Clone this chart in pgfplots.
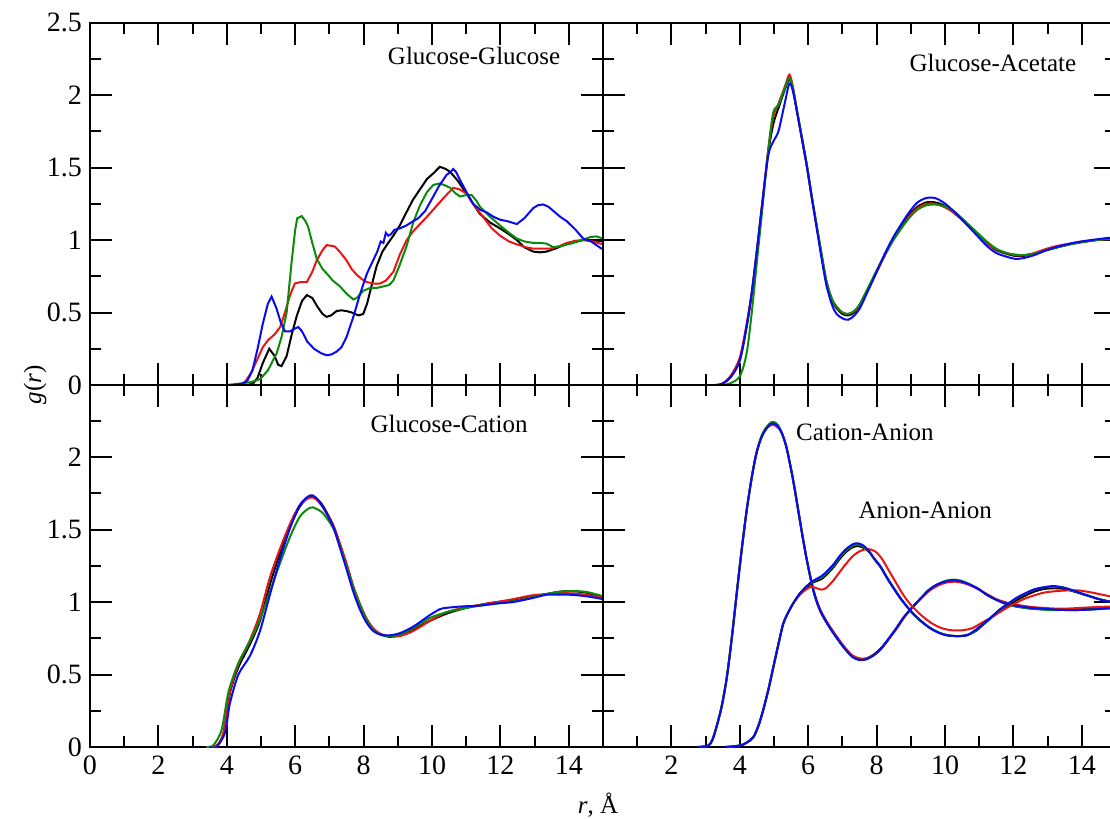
\documentclass[border=0pt]{standalone}
\usepackage{fontspec}
\setmainfont{Liberation Serif}
\usepackage{pgfplots}
\pgfplotsset{compat=1.18}

\definecolor{cred}{RGB}{235,20,20}
\definecolor{cgreen}{RGB}{10,140,10}
\definecolor{cblue}{RGB}{10,10,240}

\tikzset{lbl/.style={font=\fontsize{12.5}{15}\selectfont}}
\pgfplotsset{
  panel/.style={
    scale only axis, width=256.5pt, height=181.25pt,
    xmin=0, xmax=15, ymin=0, ymax=2.5,
    xtick={0,2,...,14}, minor xtick={1,3,...,15},
    ytick={0,0.5,1,1.5,2,2.5}, minor ytick={0.25,0.75,1.25,1.75,2.25},
    tick align=inside, tick pos=both,
    major tick length=11pt, minor tick length=5.5pt,
    axis line style={line width=1pt},
    every tick/.style={black, line width=1pt},
    tick label style={font=\fontsize{14}{16}\selectfont},
    /pgf/number format/assume math mode=true,
    every axis plot/.append style={line width=1pt},
    xticklabel style={yshift=-1pt},
    yticklabel style={xshift=-0.5pt},
  },
}

\begin{document}
\begin{tikzpicture}

% ---------- Glucose-Glucose ----------
\begin{axis}[panel, at={(45pt,-192.5pt)}, anchor=south west,
  xticklabels={}, yticklabels={0,0.5,1,1.5,2,2.5}]
\addplot[black] coordinates {
 (4.2,0) (4.6,0) (4.77,0.01) (4.9,0.05) (5.05,0.15) (5.24,0.25) (5.4,0.20) (5.5,0.14)
 (5.6,0.13) (5.75,0.20) (5.9,0.35) (6.05,0.48) (6.2,0.58) (6.34,0.62) (6.5,0.60) (6.65,0.54)
 (6.8,0.49) (6.92,0.47) (7.05,0.48) (7.21,0.51) (7.35,0.515) (7.5,0.51) (7.65,0.50) (7.85,0.48)
 (7.99,0.49) (8.1,0.56) (8.25,0.70) (8.38,0.82) (8.55,0.92) (8.72,0.98) (8.87,1.03) (9.06,1.10)
 (9.25,1.19) (9.45,1.28) (9.65,1.35) (9.85,1.42) (10.04,1.46) (10.23,1.505) (10.4,1.49) (10.53,1.47)
 (10.75,1.41) (11.01,1.32) (11.2,1.25) (11.4,1.18) (11.7,1.12) (11.99,1.08) (12.25,1.04) (12.48,1.00)
 (12.7,0.95) (12.96,0.92) (13.15,0.915) (13.35,0.92) (13.6,0.94) (13.85,0.965) (14.04,0.98)
 (14.25,0.99) (14.42,1.0) (14.7,1.0) (15,0.99)};
\addplot[cred] coordinates {
 (4.0,0) (4.4,0) (4.53,0.02) (4.7,0.08) (4.9,0.18) (5.05,0.26) (5.21,0.31) (5.4,0.35) (5.56,0.40)
 (5.7,0.50) (5.85,0.62) (5.99,0.70) (6.15,0.71) (6.34,0.71) (6.5,0.78) (6.63,0.86) (6.8,0.93)
 (6.92,0.965) (7.05,0.96) (7.16,0.955) (7.3,0.92) (7.5,0.86) (7.65,0.80) (7.8,0.76) (7.95,0.73)
 (8.09,0.71) (8.3,0.70) (8.48,0.70) (8.65,0.72) (8.87,0.78) (9.06,0.90) (9.26,1.00) (9.45,1.06)
 (9.65,1.11) (9.85,1.16) (10.04,1.21) (10.3,1.28) (10.62,1.36) (10.8,1.35) (11.01,1.32) (11.2,1.25)
 (11.49,1.16) (11.75,1.08) (11.99,1.03) (12.25,0.99) (12.48,0.97) (12.75,0.95) (12.96,0.94)
 (13.2,0.94) (13.45,0.94) (13.7,0.955) (13.94,0.98) (14.2,0.995) (14.42,1.0) (14.7,0.99) (15,0.97)};
\addplot[cgreen] coordinates {
 (4.0,0) (4.39,0.01) (4.7,0.02) (4.97,0.04) (5.2,0.10) (5.46,0.22) (5.6,0.33) (5.75,0.50) (5.9,0.86)
 (6.0,1.07) (6.06,1.15) (6.19,1.165) (6.3,1.13) (6.38,1.09) (6.5,0.98) (6.63,0.87) (6.8,0.80)
 (6.92,0.77) (7.1,0.72) (7.31,0.68) (7.5,0.63) (7.7,0.59) (7.8,0.60) (7.99,0.65) (8.2,0.67)
 (8.4,0.67) (8.58,0.68) (8.75,0.69) (8.87,0.72) (9.06,0.83) (9.26,0.96) (9.45,1.12) (9.65,1.24)
 (9.85,1.33) (10.04,1.38) (10.23,1.39) (10.4,1.375) (10.53,1.36) (10.7,1.32) (10.82,1.30) (11.0,1.31)
 (11.16,1.31) (11.3,1.27) (11.4,1.23) (11.7,1.16) (11.99,1.10) (12.25,1.05) (12.48,1.01) (12.7,0.99)
 (12.96,0.98) (13.15,0.98) (13.35,0.975) (13.55,0.95) (13.8,0.96) (14.13,0.98) (14.4,1.0)
 (14.62,1.02) (14.8,1.025) (15,1.01)};
\addplot[cblue] coordinates {
 (3.8,0) (4.2,0) (4.45,0.01) (4.6,0.03) (4.75,0.10) (4.9,0.25) (5.05,0.42) (5.2,0.56) (5.31,0.61)
 (5.45,0.53) (5.58,0.43) (5.7,0.37) (5.85,0.37) (6.0,0.39) (6.09,0.40) (6.2,0.37) (6.35,0.30)
 (6.55,0.25) (6.75,0.22) (6.92,0.205) (7.05,0.21) (7.21,0.23) (7.35,0.26) (7.5,0.33) (7.7,0.47)
 (7.9,0.63) (8.1,0.77) (8.28,0.86) (8.4,0.92) (8.5,0.99) (8.58,0.98) (8.65,1.05) (8.72,1.03)
 (8.8,1.04) (8.9,1.07) (9.06,1.08) (9.25,1.10) (9.45,1.13) (9.6,1.15) (9.8,1.20) (9.99,1.28)
 (10.2,1.37) (10.43,1.45) (10.55,1.47) (10.62,1.49) (10.7,1.47) (10.85,1.40) (11.01,1.33)
 (11.2,1.25) (11.4,1.21) (11.6,1.19) (11.8,1.16) (11.99,1.14) (12.2,1.13) (12.48,1.11) (12.7,1.15)
 (12.96,1.22) (13.1,1.24) (13.25,1.245) (13.4,1.23) (13.55,1.20) (13.75,1.16) (13.94,1.13)
 (14.2,1.07) (14.42,1.01) (14.65,0.99) (14.96,0.94) (15,0.94)};
\node[lbl] at (axis cs:11.23,2.27) {Glucose-Glucose};
\end{axis}

% ---------- Glucose-Acetate ----------
\begin{axis}[panel, at={(301.5pt,-192.5pt)}, anchor=south west,
  xticklabels={}, yticklabels={}]
\addplot[black, smooth] coordinates {
 (3.0,0) (3.3,0) (3.5,0.01) (3.75,0.06) (4.0,0.17) (4.2,0.40) (4.35,0.63) (4.5,0.92) (4.64,1.21)
 (4.83,1.60) (4.98,1.80) (5.13,1.91) (5.32,2.04) (5.45,2.11) (5.55,2.04) (5.66,1.90) (5.8,1.72)
 (5.96,1.51) (6.1,1.30) (6.25,1.09) (6.4,0.88) (6.54,0.70) (6.7,0.58) (6.83,0.53) (7.0,0.49)
 (7.17,0.48) (7.35,0.50) (7.51,0.55) (7.75,0.66) (8.0,0.78) (8.25,0.90) (8.49,1.01) (8.75,1.10)
 (8.98,1.18) (9.2,1.23) (9.46,1.26) (9.7,1.26) (9.95,1.24) (10.25,1.19) (10.54,1.13) (10.9,1.05)
 (11.22,0.98) (11.5,0.93) (11.8,0.905) (12.05,0.89) (12.29,0.89) (12.6,0.905) (12.97,0.93)
 (13.3,0.95) (13.65,0.97) (14.0,0.985) (14.44,1.0) (15,1.02)};
\addplot[cred, smooth] coordinates {
 (3.0,0) (3.3,0) (3.5,0.01) (3.75,0.07) (4.0,0.19) (4.2,0.42) (4.35,0.64) (4.5,0.93) (4.64,1.22)
 (4.83,1.62) (4.98,1.85) (5.13,1.94) (5.32,2.06) (5.45,2.14) (5.55,2.06) (5.66,1.91) (5.8,1.72)
 (5.96,1.51) (6.1,1.30) (6.25,1.09) (6.4,0.89) (6.54,0.71) (6.7,0.59) (6.83,0.54) (7.0,0.50)
 (7.17,0.49) (7.35,0.51) (7.51,0.55) (7.75,0.66) (8.0,0.78) (8.25,0.90) (8.49,1.00) (8.75,1.09)
 (8.98,1.17) (9.2,1.22) (9.46,1.25) (9.7,1.25) (9.95,1.23) (10.25,1.19) (10.54,1.13) (10.9,1.05)
 (11.22,0.98) (11.5,0.935) (11.8,0.91) (12.05,0.895) (12.29,0.895) (12.6,0.91) (12.97,0.94)
 (13.3,0.96) (13.65,0.975) (14.0,0.99) (14.44,1.0) (15,1.01)};
\addplot[cgreen, smooth] coordinates {
 (3.0,0) (3.4,0) (3.7,0.01) (4.0,0.06) (4.2,0.22) (4.35,0.50) (4.5,0.85) (4.64,1.17) (4.83,1.62)
 (4.98,1.88) (5.13,1.93) (5.32,2.05) (5.45,2.12) (5.55,2.05) (5.66,1.91) (5.8,1.73) (5.96,1.52)
 (6.1,1.31) (6.25,1.10) (6.4,0.89) (6.54,0.71) (6.7,0.59) (6.83,0.54) (7.0,0.50) (7.17,0.49)
 (7.35,0.51) (7.51,0.56) (7.75,0.67) (8.0,0.79) (8.25,0.90) (8.49,1.00) (8.75,1.09) (8.98,1.16)
 (9.2,1.21) (9.46,1.24) (9.7,1.245) (9.95,1.235) (10.25,1.20) (10.54,1.14) (10.9,1.06) (11.22,0.99)
 (11.5,0.94) (11.8,0.91) (12.05,0.90) (12.29,0.895) (12.6,0.905) (12.97,0.93) (13.3,0.95)
 (13.65,0.97) (14.0,0.985) (14.44,1.0) (15,1.01)};
\addplot[cblue, smooth] coordinates {
 (3.0,0) (3.3,0) (3.5,0.01) (3.75,0.06) (4.0,0.17) (4.2,0.41) (4.35,0.64) (4.5,0.93) (4.64,1.22)
 (4.83,1.58) (4.98,1.68) (5.13,1.75) (5.32,1.95) (5.45,2.08) (5.55,2.03) (5.66,1.90) (5.8,1.72)
 (5.96,1.51) (6.1,1.30) (6.25,1.08) (6.4,0.86) (6.54,0.68) (6.7,0.55) (6.83,0.49) (7.0,0.46)
 (7.17,0.45) (7.35,0.48) (7.51,0.53) (7.75,0.65) (8.0,0.78) (8.25,0.91) (8.49,1.02) (8.75,1.12)
 (8.98,1.20) (9.2,1.26) (9.46,1.29) (9.7,1.29) (9.95,1.26) (10.25,1.20) (10.54,1.13) (10.9,1.04)
 (11.22,0.96) (11.5,0.91) (11.8,0.885) (12.05,0.87) (12.29,0.875) (12.6,0.895) (12.97,0.93)
 (13.3,0.955) (13.65,0.975) (14.0,0.99) (14.44,1.005) (15,1.02)};
\node[lbl] at (axis cs:11.40,2.22) {Glucose-Acetate};
\end{axis}

% ---------- Glucose-Cation ----------
\begin{axis}[panel, at={(45pt,-373.5pt)}, anchor=south west,
  xticklabels={0,2,4,6,8,10,12,14}, yticklabels={0,0.5,1,1.5,2,}]
\addplot[black, smooth] coordinates {
 (3.4,0) (3.7,0.01) (3.9,0.09) (4.09,0.37) (4.34,0.55) (4.68,0.71) (4.97,0.87) (5.26,1.12)
 (5.56,1.34) (5.85,1.52) (6.14,1.66) (6.43,1.73) (6.6,1.72) (6.82,1.66) (7.11,1.53) (7.3,1.40)
 (7.51,1.24) (7.7,1.09) (7.89,0.97) (8.08,0.88) (8.28,0.81) (8.5,0.775) (8.75,0.76) (9.06,0.77)
 (9.45,0.81) (9.94,0.87) (10.43,0.92) (10.92,0.955) (11.4,0.98) (11.9,1.0) (12.38,1.01)
 (12.9,1.035) (13.35,1.055) (13.7,1.07) (14.04,1.075) (14.5,1.065) (15,1.03)};
\addplot[cred, smooth] coordinates {
 (3.4,0) (3.7,0.01) (3.9,0.10) (4.09,0.38) (4.34,0.57) (4.68,0.74) (4.97,0.92) (5.26,1.17)
 (5.56,1.37) (5.85,1.54) (6.14,1.67) (6.43,1.72) (6.6,1.71) (6.82,1.65) (7.11,1.53) (7.3,1.41)
 (7.51,1.26) (7.7,1.11) (7.89,0.99) (8.08,0.89) (8.28,0.82) (8.5,0.78) (8.75,0.765) (9.06,0.765)
 (9.45,0.80) (9.94,0.87) (10.43,0.93) (10.92,0.96) (11.4,0.98) (11.9,1.0) (12.38,1.02)
 (12.9,1.045) (13.35,1.055) (13.7,1.06) (14.04,1.06) (14.5,1.05) (15,1.03)};
\addplot[cgreen, smooth] coordinates {
 (3.4,0) (3.6,0.01) (3.85,0.12) (4.05,0.38) (4.34,0.58) (4.68,0.73) (4.97,0.88) (5.26,1.07)
 (5.56,1.27) (5.85,1.45) (6.14,1.59) (6.43,1.65) (6.6,1.645) (6.82,1.61) (7.11,1.51) (7.3,1.39)
 (7.51,1.24) (7.7,1.10) (7.89,0.98) (8.08,0.88) (8.28,0.81) (8.5,0.775) (8.75,0.765) (9.06,0.775)
 (9.45,0.82) (9.94,0.89) (10.43,0.93) (10.92,0.955) (11.4,0.975) (11.9,0.99) (12.38,1.005)
 (12.9,1.03) (13.35,1.055) (13.7,1.07) (14.04,1.075) (14.5,1.07) (15,1.04)};
\addplot[cblue, smooth] coordinates {
 (3.5,0) (3.7,0.0) (3.95,0.10) (4.09,0.30) (4.34,0.50) (4.68,0.63) (4.97,0.80) (5.26,1.05)
 (5.56,1.30) (5.85,1.51) (6.14,1.67) (6.43,1.735) (6.6,1.72) (6.82,1.65) (7.11,1.52) (7.3,1.38)
 (7.51,1.22) (7.7,1.07) (7.89,0.95) (8.08,0.86) (8.28,0.80) (8.5,0.775) (8.75,0.77) (9.06,0.785)
 (9.45,0.83) (9.94,0.91) (10.23,0.95) (10.43,0.96) (10.92,0.97) (11.4,0.975) (11.9,0.99)
 (12.38,1.0) (12.9,1.025) (13.35,1.05) (13.7,1.05) (14.04,1.05) (14.5,1.04) (15,1.02)};
\node[lbl] at (axis cs:10.50,2.23) {Glucose-Cation};
\end{axis}

% ---------- Cation-Anion / Anion-Anion ----------
\begin{axis}[panel, at={(301.5pt,-373.5pt)}, anchor=south west,
  xticklabels={,2,4,6,8,10,12,14}, yticklabels={}]
% Cation-Anion
\addplot[black, smooth] coordinates {
 (2.8,0) (3.08,0.01) (3.2,0.05) (3.32,0.14) (3.47,0.28) (3.62,0.48) (3.77,0.76) (3.91,1.06)
 (4.05,1.35) (4.2,1.63) (4.35,1.86) (4.49,2.03) (4.64,2.14) (4.79,2.20) (4.92,2.23) (5.01,2.23)
 (5.12,2.21) (5.22,2.17) (5.35,2.08) (5.47,1.95) (5.59,1.80) (5.71,1.63) (5.83,1.46) (5.96,1.29)
 (6.15,1.08) (6.35,0.94) (6.64,0.82) (7.03,0.69) (7.3,0.625) (7.51,0.605) (7.7,0.61) (7.9,0.635)
 (8.1,0.675) (8.3,0.73) (8.55,0.81) (8.78,0.89) (9.03,0.96) (9.27,1.02) (9.51,1.075) (9.76,1.115)
 (10.0,1.14) (10.24,1.15) (10.5,1.14) (10.73,1.12) (10.98,1.09) (11.22,1.05) (11.46,1.02)
 (11.7,0.995) (11.95,0.975) (12.19,0.965) (12.5,0.955) (12.78,0.95) (13.1,0.95) (13.46,0.95)
 (13.95,0.95) (14.4,0.955) (15,0.96)};
\addplot[cred, smooth] coordinates {
 (2.8,0) (3.08,0.01) (3.2,0.05) (3.32,0.14) (3.47,0.28) (3.62,0.48) (3.77,0.76) (3.91,1.06)
 (4.05,1.35) (4.2,1.63) (4.35,1.86) (4.49,2.03) (4.64,2.14) (4.79,2.20) (4.92,2.22) (5.01,2.22)
 (5.12,2.20) (5.22,2.17) (5.35,2.08) (5.47,1.95) (5.59,1.80) (5.71,1.63) (5.83,1.46) (5.96,1.29)
 (6.15,1.09) (6.35,0.95) (6.64,0.83) (7.03,0.70) (7.3,0.63) (7.55,0.61) (7.75,0.615) (7.95,0.64)
 (8.15,0.68) (8.35,0.74) (8.6,0.82) (8.83,0.90) (9.08,0.97) (9.32,1.03) (9.56,1.08) (9.81,1.115)
 (10.05,1.135) (10.3,1.14) (10.55,1.13) (10.78,1.11) (11.03,1.08) (11.27,1.05) (11.5,1.02)
 (11.75,1.0) (12.0,0.985) (12.25,0.975) (12.55,0.965) (12.85,0.96) (13.2,0.955) (13.6,0.955)
 (14.0,0.96) (14.4,0.965) (15,0.97)};
\addplot[cgreen, smooth] coordinates {
 (2.8,0) (3.08,0.01) (3.2,0.05) (3.32,0.14) (3.47,0.28) (3.62,0.48) (3.77,0.76) (3.91,1.06)
 (4.05,1.35) (4.2,1.63) (4.35,1.86) (4.49,2.03) (4.64,2.15) (4.79,2.21) (4.92,2.24) (5.01,2.24)
 (5.12,2.22) (5.22,2.17) (5.35,2.08) (5.47,1.95) (5.59,1.80) (5.71,1.63) (5.83,1.46) (5.96,1.29)
 (6.15,1.08) (6.35,0.94) (6.64,0.82) (7.03,0.69) (7.3,0.62) (7.51,0.60) (7.7,0.605) (7.9,0.63)
 (8.1,0.67) (8.3,0.73) (8.55,0.81) (8.78,0.89) (9.03,0.96) (9.27,1.02) (9.51,1.08) (9.76,1.12)
 (10.0,1.145) (10.24,1.155) (10.5,1.145) (10.73,1.12) (10.98,1.09) (11.22,1.05) (11.46,1.02)
 (11.7,0.995) (11.95,0.975) (12.19,0.965) (12.5,0.955) (12.78,0.95) (13.1,0.945) (13.46,0.945)
 (13.95,0.945) (14.4,0.95) (15,0.96)};
\addplot[cblue, smooth] coordinates {
 (2.8,0) (3.08,0.01) (3.2,0.05) (3.32,0.14) (3.47,0.28) (3.62,0.48) (3.77,0.76) (3.91,1.06)
 (4.05,1.35) (4.2,1.63) (4.35,1.86) (4.49,2.03) (4.64,2.14) (4.79,2.20) (4.92,2.23) (5.01,2.23)
 (5.12,2.21) (5.22,2.17) (5.35,2.08) (5.47,1.95) (5.59,1.80) (5.71,1.63) (5.83,1.46) (5.96,1.29)
 (6.15,1.08) (6.35,0.94) (6.64,0.82) (7.03,0.69) (7.3,0.62) (7.51,0.60) (7.7,0.605) (7.9,0.63)
 (8.1,0.67) (8.3,0.73) (8.55,0.81) (8.78,0.89) (9.03,0.96) (9.27,1.02) (9.51,1.08) (9.76,1.12)
 (10.0,1.14) (10.24,1.15) (10.5,1.14) (10.73,1.12) (10.98,1.09) (11.22,1.05) (11.46,1.02)
 (11.7,0.995) (11.95,0.98) (12.19,0.97) (12.5,0.96) (12.78,0.955) (13.1,0.95) (13.46,0.945)
 (13.95,0.945) (14.4,0.95) (15,0.96)};
% Anion-Anion
\addplot[black, smooth] coordinates {
 (3.6,0) (4.0,0.01) (4.2,0.03) (4.4,0.07) (4.55,0.15) (4.69,0.26) (4.84,0.40) (4.98,0.55)
 (5.13,0.71) (5.27,0.85) (5.42,0.93) (5.56,0.99) (5.76,1.06) (5.96,1.10) (6.1,1.13) (6.25,1.145)
 (6.4,1.16) (6.54,1.19) (6.74,1.24) (6.93,1.30) (7.13,1.35) (7.32,1.38) (7.48,1.385) (7.65,1.37)
 (7.8,1.34) (7.95,1.29) (8.15,1.23) (8.33,1.16) (8.52,1.09) (8.72,1.02) (8.92,0.96) (9.1,0.91)
 (9.33,0.86) (9.6,0.815) (9.85,0.785) (10.1,0.77) (10.4,0.765) (10.68,0.775) (10.9,0.80)
 (11.15,0.85) (11.4,0.90) (11.65,0.945) (11.9,0.985) (12.15,1.02) (12.4,1.05) (12.65,1.075)
 (12.9,1.09) (13.2,1.095) (13.5,1.09) (13.8,1.07) (14.15,1.045) (14.5,1.02) (15,0.995)};
\addplot[cred, smooth] coordinates {
 (3.6,0) (4.0,0.01) (4.2,0.03) (4.4,0.07) (4.55,0.15) (4.69,0.26) (4.84,0.40) (4.98,0.55)
 (5.13,0.71) (5.27,0.85) (5.42,0.93) (5.56,0.99) (5.76,1.05) (5.96,1.09) (6.1,1.105) (6.25,1.095)
 (6.4,1.085) (6.54,1.10) (6.74,1.15) (6.93,1.21) (7.13,1.27) (7.32,1.32) (7.55,1.355) (7.75,1.365)
 (7.95,1.35) (8.15,1.30) (8.35,1.22) (8.55,1.14) (8.75,1.06) (9.0,0.98) (9.3,0.91) (9.6,0.855)
 (9.9,0.82) (10.2,0.805) (10.5,0.805) (10.8,0.82) (11.1,0.86) (11.4,0.90) (11.7,0.945) (12.0,0.985)
 (12.3,1.02) (12.6,1.045) (12.9,1.065) (13.25,1.075) (13.6,1.08) (13.9,1.08) (14.3,1.065)
 (14.7,1.045) (15,1.03)};
\addplot[cgreen, smooth] coordinates {
 (3.6,0) (4.0,0.01) (4.2,0.03) (4.4,0.07) (4.55,0.15) (4.69,0.26) (4.84,0.40) (4.98,0.55)
 (5.13,0.71) (5.27,0.85) (5.42,0.93) (5.56,0.99) (5.76,1.06) (5.96,1.11) (6.1,1.135) (6.25,1.155)
 (6.4,1.17) (6.54,1.20) (6.74,1.25) (6.93,1.31) (7.13,1.36) (7.32,1.39) (7.47,1.395) (7.63,1.38)
 (7.78,1.35) (7.92,1.30) (8.12,1.24) (8.31,1.165) (8.5,1.095) (8.7,1.025) (8.9,0.965) (9.08,0.915)
 (9.31,0.865) (9.58,0.82) (9.82,0.79) (10.07,0.77) (10.37,0.765) (10.65,0.77) (10.87,0.80)
 (11.13,0.85) (11.38,0.90) (11.62,0.95) (11.87,0.99) (12.12,1.03) (12.37,1.06) (12.6,1.085)
 (12.87,1.10) (13.17,1.105) (13.47,1.10) (13.77,1.075) (14.12,1.05) (14.5,1.02) (15,0.99)};
\addplot[cblue, smooth] coordinates {
 (3.6,0) (4.0,0.01) (4.2,0.03) (4.4,0.07) (4.55,0.15) (4.69,0.26) (4.84,0.40) (4.98,0.55)
 (5.13,0.71) (5.27,0.85) (5.42,0.93) (5.56,0.99) (5.76,1.06) (5.96,1.11) (6.1,1.14) (6.25,1.16)
 (6.4,1.18) (6.54,1.21) (6.74,1.26) (6.93,1.32) (7.13,1.37) (7.32,1.40) (7.45,1.405) (7.61,1.39)
 (7.75,1.36) (7.9,1.31) (8.1,1.25) (8.29,1.17) (8.48,1.10) (8.68,1.03) (8.88,0.97) (9.07,0.92)
 (9.3,0.87) (9.56,0.82) (9.8,0.79) (10.05,0.77) (10.35,0.765) (10.63,0.77) (10.85,0.80)
 (11.12,0.85) (11.37,0.90) (11.61,0.95) (11.85,0.99) (12.1,1.03) (12.35,1.06) (12.58,1.085)
 (12.85,1.10) (13.17,1.11) (13.45,1.10) (13.75,1.08) (14.1,1.05) (14.5,1.02) (15,0.99)};
\node[lbl] at (axis cs:7.66,2.17) {Cation-Anion};
\node[lbl] at (axis cs:9.42,1.63) {Anion-Anion};
\end{axis}

% axis titles
\node[lbl, rotate=90] at (17.5pt,-192.5pt) {\textit{g}(\textit{r})};
\node[lbl] at (299pt,-402.5pt) {\textit{r}, Å};

\pgfresetboundingbox
\path[use as bounding box] (0pt,0pt) rectangle (555pt,-409.5pt);
\end{tikzpicture}
\end{document}
